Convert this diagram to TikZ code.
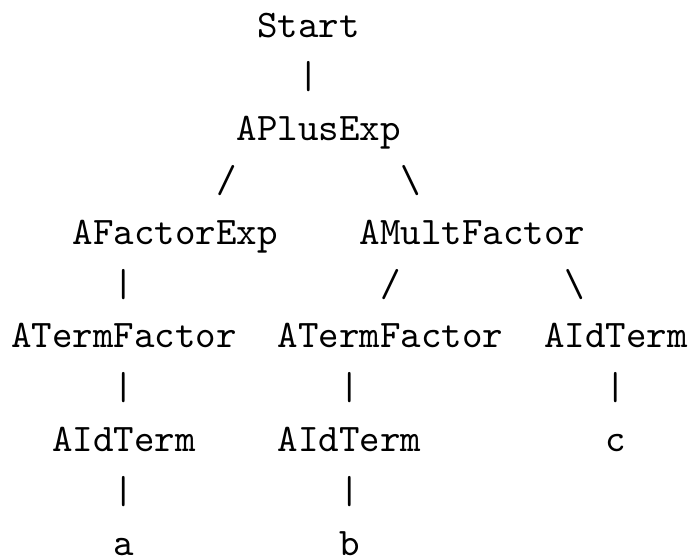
\documentclass[tikz,border=0pt]{standalone}
\begin{document}
\begin{tikzpicture}[x=5.25pt,y=-13.27pt,
  tt/.style={font=\ttfamily\fontsize{10pt}{12pt}\selectfont, inner sep=0pt, outer sep=0pt, anchor=base west}]
\useasboundingbox (-0.537,-0.7144) rectangle (33.22,10.074);
\node[tt] (start) at (12,0) {Start};
\node[tt] (l1) at (14,1) {|};
\node[tt] (plus) at (11,2) {APlusExp};
\node[tt] (l2) at (10,3) {/};
\node[tt] (l3) at (19,3) {\textbackslash};
\node[tt] (fexp) at (3,4) {AFactorExp};
\node[tt] (mult) at (17,4) {AMultFactor};
\node[tt] (l4) at (5,5) {|};
\node[tt] (l5) at (18,5) {/};
\node[tt] (l6) at (27,5) {\textbackslash};
\node[tt] (tf1) at (0,6) {ATermFactor};
\node[tt] (tf2) at (13,6) {ATermFactor};
\node[tt] (id3) at (26,6) {AIdTerm};
\node[tt] (l7) at (5,7) {|};
\node[tt] (l8) at (16,7) {|};
\node[tt] (l9) at (29,7) {|};
\node[tt] (id1) at (2,8) {AIdTerm};
\node[tt] (id2) at (13,8) {AIdTerm};
\node[tt] (c) at (29,8) {c};
\node[tt] (l10) at (5,9) {|};
\node[tt] (l11) at (16,9) {|};
\node[tt] (a) at (5,10) {a};
\node[tt] (b) at (16,10) {b};
\end{tikzpicture}
\end{document}
